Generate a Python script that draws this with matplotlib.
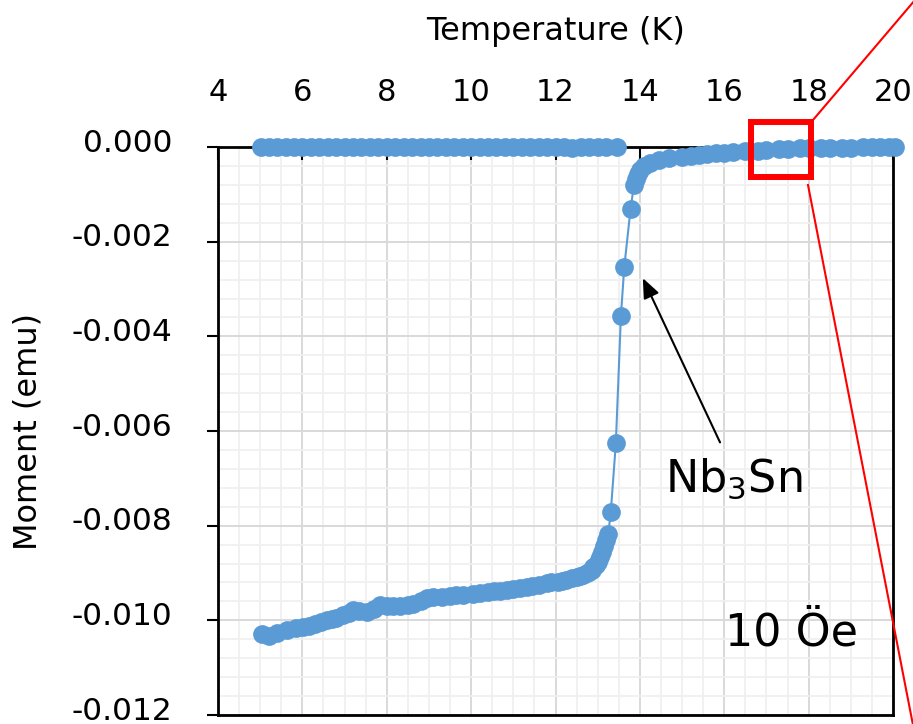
import numpy as np
import matplotlib.pyplot as plt
import matplotlib.transforms as mtransforms
from matplotlib.patches import Rectangle
from matplotlib.lines import Line2D
from matplotlib.ticker import MultipleLocator, FormatStrFormatter

plt.rcParams['font.family'] = ['DejaVu Sans']
plt.rcParams['axes.unicode_minus'] = False

# zero-field-cooled branch (K, emu)
tempZfc = [5.04, 5.2, 5.4, 5.63, 5.85, 6.02, 6.15, 6.3, 6.45, 6.58, 6.7, 6.8, 6.97,
           7.1, 7.2, 7.35, 7.52, 7.7, 7.84, 8.0, 8.15, 8.31, 8.5, 8.62, 8.8, 8.95,
           9.1, 9.3, 9.5, 9.65, 9.8, 10.05, 10.2, 10.4, 10.55, 10.68, 10.85, 11.0,
           11.15, 11.32, 11.45, 11.6, 11.79, 11.9, 12.05, 12.15, 12.26, 12.4, 12.5,
           12.58, 12.66, 12.74, 12.8, 12.86, 12.9, 12.95, 13.0, 13.05, 13.1, 13.15,
           13.2, 13.25, 13.31, 13.43, 13.55, 13.63, 13.78, 13.86, 13.9, 13.95, 14.0,
           14.1, 14.24, 14.45, 14.7, 15.0, 15.2, 15.4, 15.6, 15.8, 16.0, 16.2, 16.5,
           16.8, 17.0, 17.3, 17.5, 17.8, 18.0, 18.3, 18.5, 18.8, 19.0, 19.3, 19.5,
           19.7, 19.9, 20.05]
momentZfc = [-0.01028, -0.01032, -0.01027, -0.01021, -0.01017, -0.01014, -0.01011,
             -0.01007, -0.01003, -0.01000, -0.00997, -0.00994, -0.00989, -0.00984,
             -0.00978, -0.00980, -0.00982, -0.00976, -0.00968, -0.00970, -0.00970,
             -0.00970, -0.00968, -0.00966, -0.00960, -0.00952, -0.00951, -0.00950,
             -0.00948, -0.00947, -0.00946, -0.00944, -0.00942, -0.00940, -0.00938,
             -0.00937, -0.00935, -0.00934, -0.00932, -0.00930, -0.00928, -0.00925,
             -0.00922, -0.00920, -0.00918, -0.00916, -0.00914, -0.00911, -0.00909,
             -0.00907, -0.00904, -0.00900, -0.00897, -0.00893, -0.00888, -0.00882,
             -0.00876, -0.00866, -0.00855, -0.00842, -0.00830, -0.00818, -0.00771,
             -0.00626, -0.00357, -0.00253, -0.00130, -0.00080, -0.00068, -0.00058,
             -0.00049, -0.00040, -0.00034, -0.00028, -0.00023, -0.00020, -0.00018,
             -0.00017, -0.00015, -0.00013, -0.00012, -0.00010, -0.00009, -0.00008,
             -0.00006, -0.00005, -0.00004, -0.00003, -0.00003, -0.00002, -0.00002,
             -0.00001, -0.00001, 0.0, 0.0, 0.0, 0.0, 0.0]

# field-cooled branch, flat at zero
tempFc = [5.02, 5.2, 5.4, 5.6, 5.8, 6.0, 6.2, 6.4, 6.6, 6.8, 7.0, 7.2, 7.4, 7.6, 7.8,
          8.0, 8.2, 8.4, 8.6, 8.8, 9.0, 9.2, 9.4, 9.6, 9.8, 10.0, 10.2, 10.4, 10.6,
          10.8, 11.0, 11.2, 11.4, 11.6, 11.8, 12.0, 12.2, 12.4, 12.6, 12.8, 13.0,
          13.2, 13.45]
momentFc = [0.0, 0.0, 0.0, 0.0, 0.0, 0.0, 0.0, 0.0, 0.0, 0.0, 0.0, 0.0, 0.0, 0.0, 0.0,
            0.0, 0.0, 0.0, 0.0, 0.0, 0.0, 0.0, 0.0, 0.0, 0.0, 0.0, 0.0, 0.0, 0.0,
            0.0, 0.0, 0.0, 0.0, 0.0, 0.0, 0.0, 0.0, -0.00001, 0.0, 0.0, 0.0,
            0.0, 0.0]

BLUE = "#5B9BD5"

fig = plt.figure(figsize=(9.13, 7.24), dpi=100)
ax = fig.add_axes([0.2388, 0.0124, 0.7393, 0.7845])

ax.plot(tempFc, momentFc, "-o", color=BLUE, lw=1.5, ms=13.5, mew=0,
        clip_on=False, zorder=3)
ax.plot(tempZfc, momentZfc, "-o", color=BLUE, lw=1.5, ms=13.5, mew=0,
        clip_on=False, zorder=3)

ax.set_xlim(4, 20)
ax.set_ylim(-0.012, 0.0)
ax.xaxis.set_major_locator(MultipleLocator(2))
ax.xaxis.set_minor_locator(MultipleLocator(0.5))
ax.yaxis.set_major_locator(MultipleLocator(0.002))
ax.yaxis.set_minor_locator(MultipleLocator(0.0004))
ax.yaxis.set_major_formatter(FormatStrFormatter("%.3f"))

ax.xaxis.tick_top()
ax.xaxis.set_label_position("top")
ax.tick_params(axis="x", which="major", direction="in", length=9, width=1.5,
               pad=29, labelsize=22)
ax.tick_params(axis="y", which="major", direction="out", length=8, width=1.5,
               pad=25, labelsize=22.5)
ax.tick_params(which="minor", length=0)

# y labels sit a few pixels above their ticks
shiftUp = mtransforms.ScaledTranslation(0, 5 / 72, fig.dpi_scale_trans)
for tick in ax.yaxis.get_major_ticks():
    tick.label1.set_transform(tick.label1.get_transform() + shiftUp)

ax.grid(which="major", color="#d9d9d9", lw=1.4)
ax.grid(which="minor", color="#f0f0f0", lw=1.3)
ax.set_axisbelow(True)
for s in ax.spines.values():
    s.set_linewidth(2)
    s.set_color("black")

ax.set_xlabel("Temperature (K)", fontsize=23, labelpad=27)
ax.set_ylabel("Moment (emu)", fontsize=23, labelpad=20)

ax.annotate("", xy=(14.07, -0.00277), xytext=(15.9, -0.00624),
            arrowprops=dict(arrowstyle="-|>,head_length=0.6,head_width=0.25",
                            color="black", lw=1.5, mutation_scale=20,
                            shrinkA=0, shrinkB=0))
ax.text(14.6, -0.00729, "Nb$_3$Sn", fontsize=32, ha="left", va="baseline")
ax.text(16.02, -0.01053, "10 Öe", fontsize=32, ha="left", va="baseline")

# zoom box and guide lines
ax.add_patch(Rectangle((16.63, -0.00063), 1.43, 0.00116, fill=False,
                       edgecolor="red", lw=4.3, clip_on=False, zorder=5))
fig.add_artist(Line2D([813 / 913, 915 / 913], [1 - 120 / 724, 1.0],
                      color="red", lw=1.5, transform=fig.transFigure))
fig.add_artist(Line2D([808 / 913, 913.5 / 913], [1 - 185 / 724, -0.005],
                      color="red", lw=1.5, transform=fig.transFigure))

fig.savefig("out.png", dpi=100)
